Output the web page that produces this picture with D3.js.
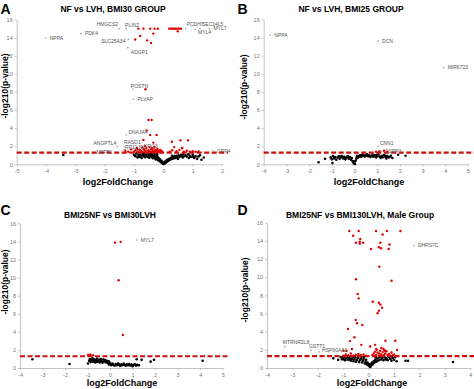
<!DOCTYPE html>
<html>
<head>
<meta charset="utf-8">
<script src="https://cdn.jsdelivr.net/npm/d3@7"></script>
<style>
  body { margin: 0; background: #fff; }
  svg { display: block; font-family: "Liberation Sans", Arial, sans-serif; }
  .axis path, .axis line { stroke: #b5b5b5; stroke-width: 0.8; }
  .axis text { fill: #777; font-size: 5.5px; }
</style>
</head>
<body>
<svg id="chart" width="474" height="389"></svg>
<script>
// ---- panel A: NF vs LVH, BMI30 GROUP ----
const A_X_TICKS = [-5, -4, -3, -2, -1, 0, 1, 2];
const A_BLACK = [
  [-3.41,1.03],[-1.0,1.05],[-0.95,0.9],[-0.92,1.2],[-0.88,0.75],[-0.85,1.0],[-0.8,1.15],[-0.78,0.85],
  [-0.74,0.7],[-0.72,1.0],[-0.7,1.22],[-0.66,0.9],[-0.63,0.78],[-0.6,1.1],[-0.58,0.95],[-0.55,1.25],
  [-0.53,0.82],[-0.5,1.05],[-0.48,0.72],[-0.45,0.92],[-0.43,1.18],[-0.4,0.8],[-0.38,1.02],[-0.35,0.68],
  [-0.33,0.9],[-0.3,1.15],[-0.28,0.75],[-0.26,0.55],[-0.24,0.98],[-0.22,0.65],[-0.2,0.85],[-0.18,0.45],
  [-0.16,0.7],[-0.14,0.38],[-0.12,0.55],[-0.1,0.28],[-0.08,0.42],[-0.06,0.18],[-0.04,0.3],[-0.02,0.08],
  [0.0,0.15],[0.01,0.03],[0.03,0.22],[0.05,0.1],[0.07,0.32],[0.09,0.2],[0.11,0.42],[0.13,0.3],
  [0.15,0.52],[0.18,0.4],[0.2,0.62],[0.23,0.5],[0.26,0.72],[0.29,0.58],[0.32,0.8],[0.35,0.65],
  [0.38,0.9],[0.42,0.7],[0.45,0.95],[0.48,0.78],[0.52,1.0],[0.55,0.82],[0.6,1.05],[0.63,0.88],
  [0.68,1.1],[0.72,0.9],[0.76,1.0],[0.8,0.85],[0.85,1.12],[0.9,0.95],[0.95,0.8],[1.0,1.05],
  [1.05,0.7],[1.1,0.9],[1.15,0.6],[1.2,0.85],[1.3,0.5],[1.38,0.75],[-0.9,1.28],[-0.65,1.27],
  [-0.97,0.95],[-0.83,0.8],[-0.68,1.12],[-0.52,1.2],[-0.41,1.0],[-0.31,0.85],[-0.36,1.25],[-0.21,1.1],
  [0.3,0.95],[0.5,0.6],[0.66,0.75],[0.87,0.7],[1.02,0.85],[1.25,1.0]
];
const A_RED = [
  [-1.3,1.5],[-1.2,1.4],[-1.1,1.65],[-1.0,1.4],[-0.95,1.55],[-0.9,1.8],[-0.85,1.4],[-0.8,1.6],
  [-0.75,1.45],[-0.72,1.85],[-0.7,1.35],[-0.65,1.6],[-0.6,1.45],[-0.58,1.75],[-0.55,1.35],[-0.5,1.55],
  [-0.47,1.9],[-0.45,1.4],[-0.42,1.65],[-0.4,1.35],[-0.37,1.8],[-0.35,1.5],[-0.32,1.4],[-0.3,1.65],
  [-0.27,1.35],[-0.25,1.55],[-0.22,1.45],[-0.2,1.7],[-0.18,1.35],[-0.15,1.5],[-0.12,1.4],[-0.1,1.6],
  [-0.08,1.35],[-0.05,1.45],[-0.62,2.0],[-0.3,1.95],[-0.88,1.65],[-0.68,1.7],[-0.52,1.45],[-0.4,1.75],
  [0.22,1.4],[0.3,1.55],[0.37,1.9],[0.45,1.45],[0.55,1.6],[0.64,1.8],[0.7,1.4],[0.8,1.5],
  [0.9,1.4],[1.0,1.45],[1.1,1.38],[1.2,1.42],
  [-0.85,15.0],[-0.68,15.0],[-0.45,15.0],[-0.3,15.0],[-0.19,15.0],
  [0.2,15.0],[0.25,15.0],[0.3,15.0],[0.35,15.0],[0.4,15.0],[0.45,15.0],[0.5,15.0],[0.55,15.0],[0.6,15.0],
  [0.49,14.7],[-0.79,14.2],[-0.96,13.8],[-0.34,14.45],[-0.55,13.7],[-0.42,13.4],[-0.61,8.3],
  [-0.51,4.9],[-0.4,4.9],[-0.57,3.75],[-0.45,3.25],[-0.23,3.25],[-0.68,2.7],[-0.34,2.4],
  [0.29,2.5],[0.58,2.65],[0.84,2.65],[0.64,1.8]
];
const A_GENES = [
  {name: "NPPA", x: -4.01, y: 13.94}, {name: "PDK4", x: -2.81, y: 14.45},
  {name: "HMGCS2", x: -1.51, y: 15.0}, {name: "PLIN2", x: -1.27, y: 15.0},
  {name: "SLC25A34", x: -1.19, y: 13.8}, {name: "ADGP1", x: -1.21, y: 12.9},
  {name: "POSTN", x: -1.04, y: 8.3}, {name: "PLVAP", x: -1.02, y: 7.2},
  {name: "DNAJA4", x: -1.26, y: 3.24}, {name: "ANGPTL4", x: -1.57, y: 1.95},
  {name: "RASD1", x: -1.34, y: 2.0}, {name: "RP11-SL", x: -1.34, y: 1.6},
  {name: "NRG3", x: -0.7, y: 1.75}, {name: "NPPB", x: -1.78, y: 1.47},
  {name: "GPR4", x: 1.69, y: 1.47}, {name: "PCDH7", x: 0.76, y: 15.0},
  {name: "SEC14L5", x: 1.25, y: 15.0}, {name: "MYL4", x: 1.08, y: 14.9},
  {name: "MYL7", x: 1.57, y: 15.0}
];

// ---- panel B: NF vs LVH, BMI25 GROUP ----
const B_X_TICKS = [-4, -3, -2, -1, 0, 1, 2, 3, 4, 5];
const B_BLACK = [
  [-1.58,0.23],[-1.3,0.6],[-0.97,0.15],[-1.05,0.75],[-1.0,0.55],[-0.95,0.9],[-0.9,0.65],[-0.85,0.8],
  [-0.8,0.5],[-0.75,0.72],[-0.7,0.88],[-0.65,0.6],[-0.6,0.78],[-0.55,0.9],[-0.5,0.65],[-0.45,0.82],
  [-0.4,0.55],[-0.35,0.75],[-0.3,0.9],[-0.25,0.62],[-0.2,0.8],[-0.15,0.5],[-0.12,0.7],[-0.08,0.35],
  [-0.05,0.2],[-0.02,0.1],[0.0,0.3],[0.02,0.05],[0.05,0.4],[0.08,0.6],[0.1,0.8],[0.12,0.95],
  [0.15,0.75],[0.2,0.9],[0.25,1.0],[0.3,0.8],[0.35,0.95],[0.4,1.05],[0.45,0.85],[0.5,0.98],
  [0.55,1.1],[0.6,0.88],[0.65,1.0],[0.7,0.8],[0.75,0.95],[0.8,1.08],[0.85,0.85],[0.9,1.0],
  [0.95,0.75],[1.0,0.92],[1.05,1.1],[1.1,0.85],[1.15,0.7],[1.2,0.95],[1.25,0.78],[1.3,1.02],
  [1.35,0.85],[1.4,0.65],[1.45,0.9],[1.5,0.75],[1.55,0.8],[1.6,0.95],[1.67,0.7],[1.92,1.05],
  [2.25,0.95],[-0.88,0.72],[-0.62,0.85],[-0.42,0.68],[-0.27,0.78],[0.18,0.82],[0.33,1.02],
  [0.58,0.95],[0.78,0.88],[0.98,1.02],[1.18,0.82],[1.38,0.95]
];
const B_RED = [[0.95,1.38],[1.1,1.45],[1.3,1.5],[1.45,1.4]];
const B_GENES = [
  {name: "NPPA", x: -3.71, y: 14.3}, {name: "DCN", x: 1.04, y: 13.64},
  {name: "MIR6723", x: 3.93, y: 10.69}, {name: "CNN1", x: 1.03, y: 2.0},
  {name: "CSRP1", x: 1.17, y: 1.47}
];

// ---- panel C: BMI25NF vs BMI30LVH ----
const C_X_TICKS = [-4, -3, -2, -1, 0, 1, 2, 3, 4, 5];
const C_BLACK = [
  [-3.45,0.96],[-1.8,0.44],[-0.98,0.5],[1.4,0.9],[1.8,0.7],[1.95,0.9],[4.11,0.8],[1.18,0.96],
  [-0.93,0.8],[-0.9,1.0],[-0.86,0.65],[-0.82,0.9],[-0.78,1.08],[-0.75,0.7],[-0.7,0.95],[-0.66,0.6],
  [-0.62,0.85],[-0.58,1.05],[-0.55,0.7],[-0.5,0.9],[-0.46,0.62],[-0.42,1.0],[-0.38,0.78],[-0.34,0.58],
  [-0.3,0.95],[-0.26,0.72],[-0.22,0.88],[-0.18,0.6],[-0.14,0.8],[-0.1,0.55],[-0.06,0.75],[-0.02,0.6],
  [-0.72,0.82],[-0.52,0.8],[-0.32,0.68],[-0.12,0.68],[-0.88,0.78],[-0.6,0.68],[-0.4,0.9],[-0.2,0.75],
  [0.0,0.45],[0.05,0.3],[0.1,0.5],[0.15,0.35],[0.2,0.25],[0.25,0.45],[0.3,0.3],[0.35,0.5],
  [0.4,0.35],[0.45,0.22],[0.5,0.42],[0.55,0.3],[0.6,0.48],[0.65,0.35],[0.7,0.25],[0.75,0.4],
  [0.8,0.3],[0.85,0.45],[0.9,0.28],[0.95,0.38],[1.0,0.2],[1.05,0.35],[1.1,0.42],[1.15,0.25],
  [1.2,0.35],[1.28,0.3],[-0.05,0.38],[0.12,0.4],[0.38,0.45],[0.62,0.38]
];
const C_RED = [
  [0.22,13.86],[0.47,13.95],[0.38,9.7],[0.57,3.65],[-0.98,1.45],[-0.88,1.5],[-0.75,1.42]
];
const C_GENES = [{name: "MYL7", x: 1.18, y: 14.16}];

// ---- panel D: BMI25NF vs BMI130LVH, Male Group ----
const D_X_TICKS = [-4, -3, -2, -1, 0, 1, 2, 3, 4];
const D_BLACK = [
  [-1.1,1.2],[-1.05,0.95],[-1.0,1.1],[-0.95,1.25],[-0.92,0.85],[-0.88,1.05],[-0.84,1.2],[-0.8,0.9],
  [-0.76,1.1],[-0.72,1.28],[-0.7,0.8],[-0.66,1.0],[-0.62,1.2],[-0.6,0.75],[-0.56,0.95],[-0.52,1.15],
  [-0.5,0.7],[-0.46,0.9],[-0.42,1.1],[-0.4,1.28],[-0.38,0.65],[-0.34,0.85],[-0.3,1.05],[-0.28,1.25],
  [-0.26,0.6],[-0.22,0.8],[-0.2,1.0],[-0.18,1.2],[-0.15,0.5],[-0.12,0.7],[-0.1,0.9],[-0.08,0.4],
  [-0.05,0.6],[-0.02,0.3],[0.0,0.45],[0.03,0.2],[0.05,0.35],[0.07,0.12],[0.09,0.28],[0.11,0.45],
  [0.13,0.6],[0.15,0.35],[0.18,0.5],[0.2,0.75],[0.23,0.6],[0.26,0.9],[0.3,0.7],[0.33,1.05],
  [0.36,0.8],[0.4,1.15],[0.43,0.9],[0.47,1.25],[0.5,0.95],[0.54,1.1],[0.58,0.85],[0.62,1.2],
  [0.66,0.95],[0.7,1.1],[0.75,0.85],[0.8,1.2],[0.85,1.0],[0.9,0.8],[0.95,1.1],[1.0,0.9],
  [1.05,1.2],[1.1,0.75],[1.45,0.8],[1.55,0.8],[3.32,0.66],[-1.39,1.06],[-1.2,0.9],
  [-0.98,0.95],[-0.74,0.95],[-0.54,1.25],[-0.32,0.95],[0.28,1.15],[0.52,1.2],[0.72,0.95],[0.92,1.22]
];
const D_RED = [
  [-0.76,15.09],[-0.61,14.57],[-0.39,15.09],[-0.33,14.2],[-0.35,13.9],[-0.5,13.8],[-0.22,13.8],[-0.35,13.7],
  [0.09,13.1],[0.29,15.09],[0.55,14.7],[0.72,15.09],[0.46,13.8],[0.4,13.3],[0.49,13.2],[0.82,13.6],
  [0.79,13.1],[1.25,15.09],[0.42,11.16],[-0.5,9.77],[0.9,9.6],[-0.43,8.15],[-0.39,7.67],[0.16,7.3],
  [0.4,7.19],[0.46,7.0],[0.53,6.63],[0.4,6.3],[0.35,6.04],[-0.51,5.29],[-0.46,4.92],[-0.25,4.74],
  [-0.81,4.3],[-0.56,3.38],[-0.74,2.96],[-0.29,2.55],[0.25,2.55],[0.66,3.0],[1.05,3.0],[0.06,2.37],
  [0.32,2.0],[0.58,2.1],[0.64,1.9],[1.12,2.0],[-0.66,2.1],[-0.99,1.9],
  [-1.0,1.35],[-0.9,1.5],[-0.8,1.4],[-0.7,1.6],[-0.6,1.38],[-0.5,1.45],[-0.4,1.55],[-0.3,1.4],
  [-0.2,1.5],[-0.1,1.35],[0.15,1.4],[0.2,1.6],[0.25,1.8],[0.3,1.45],[0.35,1.7],[0.4,1.35],
  [0.45,1.9],[0.5,1.5],[0.55,1.75],[0.6,1.4],[0.65,1.6],[0.7,1.85],[0.75,1.45],[0.8,1.55],
  [0.85,1.35],[0.9,1.7],[0.95,1.4],[1.0,1.5],[0.3,2.1],[0.5,2.2],[0.42,1.6],[0.62,1.95],[-0.87,1.9]
];
const D_GENES = [
  {name: "DHRS7C", x: 1.78, y: 13.47}, {name: "MTRNR2L8", x: -3.3, y: 2.35},
  {name: "GSTT1", x: -2.27, y: 1.98}, {name: "HSP90AA1", x: -1.95, y: 1.76}
];

const Y_TICKS = [0, 2, 4, 6, 8, 10, 12, 14, 16];
const THRESHOLD = 1.3;

// label placement around the gene marker: [dx, dy, anchor]
const LABEL_POS = {
  "HMGCS2": [-1, -4.5, "end"], "PLIN2": [-1, -3.5, "start"], "SLC25A34": [-3, 2, "end"],
  "ADGP1": [3, 5, "start"], "POSTN": [-2, -3, "start"], "ANGPTL4": [-1, -3.5, "end"],
  "RASD1": [0, -4, "start"], "RP11-SL": [1, -3, "start"], "NRG3": [1, -2, "start"],
  "NPPB": [-1, 1, "end"], "PCDH7": [1, -4.5, "start"], "SEC14L5": [2, -4.5, "start"],
  "MYL4": [3, 3, "start"], "DNAJA4": [2, -3, "start"], "CNN1": [2, -3, "start"],
  "MTRNR2L8": [-2, -4.5, "start"], "GSTT1": [-2, -3.5, "start"], "HSP90AA1": [3, -1.5, "start"]
};

const svg = d3.select('#chart');

function drawPanel(p) {
  const x = d3.scaleLinear().domain(p.xDomain).range([p.left, p.right]);
  const y = d3.scaleLinear().domain([0, 16]).range([p.bottom, p.top]);
  const g = svg.append('g');

  g.append('g')
    .attr('class', 'axis')
    .attr('transform', `translate(0,${p.bottom})`)
    .call(d3.axisBottom(x).tickValues(p.xTicks).tickSize(2).tickSizeOuter(0).tickPadding(3).tickFormat(d => String(d)));
  g.append('g')
    .attr('class', 'axis')
    .attr('transform', `translate(${p.left},0)`)
    .call(d3.axisLeft(y).tickValues(Y_TICKS).tickSize(2).tickSizeOuter(0).tickPadding(2).tickFormat(d => String(d)));

  g.selectAll('.black-pt')
    .data(p.black)
    .enter()
    .append('circle')
    .attr('class', 'black-pt')
    .attr('cx', d => x(d[0]))
    .attr('cy', d => y(d[1]))
    .attr('r', 1.3)
    .attr('fill', '#000');

  g.selectAll('.red-pt')
    .data(p.red)
    .enter()
    .append('circle')
    .attr('class', 'red-pt')
    .attr('cx', d => x(d[0]))
    .attr('cy', d => y(d[1]))
    .attr('r', 1.2)
    .attr('fill', '#e00000');

  // p = 0.05 line
  g.append('line')
    .attr('x1', x(p.xDomain[0]))
    .attr('x2', x(p.xDomain[1]) + 6)
    .attr('y1', y(THRESHOLD))
    .attr('y2', y(THRESHOLD))
    .attr('stroke', '#cc1010')
    .attr('stroke-width', 2.2)
    .attr('stroke-dasharray', '5,2.5');

  g.selectAll('.gene-pt')
    .data(p.genes)
    .enter()
    .append('circle')
    .attr('class', 'gene-pt')
    .attr('cx', d => x(d.x))
    .attr('cy', d => y(d.y))
    .attr('r', 0.8)
    .attr('fill', '#999');

  g.selectAll('.gene-label')
    .data(p.genes)
    .enter()
    .append('text')
    .attr('class', 'gene-label')
    .attr('x', d => x(d.x) + (LABEL_POS[d.name] || [4, 0])[0])
    .attr('y', d => y(d.y) + (LABEL_POS[d.name] || [4, 0])[1] + 1.8)
    .attr('text-anchor', d => (LABEL_POS[d.name] || [4, 0, 'start'])[2])
    .attr('font-size', '5px')
    .attr('fill', '#555')
    .text(d => d.name);

  g.append('text')
    .attr('x', p.titleX).attr('y', p.titleY)
    .attr('text-anchor', 'middle')
    .attr('font-size', '8.5px').attr('font-weight', 'bold')
    .text(p.title);

  g.append('text')
    .attr('x', p.letterX).attr('y', p.letterY)
    .attr('font-size', '14px').attr('font-weight', 'bold')
    .text(p.letter);

  g.append('text')
    .attr('x', p.xLabelX).attr('y', p.xLabelY)
    .attr('text-anchor', 'middle')
    .attr('font-size', '9px').attr('font-weight', 'bold')
    .text('log2FoldChange');

  g.append('text')
    .attr('transform', `translate(${p.yLabelX},${p.yLabelY}) rotate(-90)`)
    .attr('text-anchor', 'middle')
    .attr('dominant-baseline', 'central')
    .attr('font-size', '8.5px').attr('font-weight', 'bold')
    .text('-log210(p-value)');
}

drawPanel({
  letter: 'A', title: 'NF vs LVH, BMI30 GROUP', xDomain: [-5, 2], xTicks: A_X_TICKS,
  black: A_BLACK, red: A_RED, genes: A_GENES,
  left: 16.7, right: 222, top: 19.6, bottom: 164.3,
  titleX: 113, titleY: 11.5, letterX: 0.5, letterY: 13.5,
  xLabelX: 118, xLabelY: 185, yLabelX: 5, yLabelY: 86
});
drawPanel({
  letter: 'B', title: 'NF vs LVH, BMI25 GROUP', xDomain: [-4, 5], xTicks: B_X_TICKS,
  black: B_BLACK, red: B_RED, genes: B_GENES,
  left: 263.7, right: 468, top: 19.6, bottom: 164.3,
  titleX: 351, titleY: 11.5, letterX: 237.5, letterY: 13.5,
  xLabelX: 369, xLabelY: 185, yLabelX: 244, yLabelY: 87
});
drawPanel({
  letter: 'C', title: 'BMI25NF vs BMI30LVH', xDomain: [-4, 5], xTicks: C_X_TICKS,
  black: C_BLACK, red: C_RED, genes: C_GENES,
  left: 20, right: 222.7, top: 223.3, bottom: 368,
  titleX: 110, titleY: 218, letterX: 0.5, letterY: 215,
  xLabelX: 122, xLabelY: 385.5, yLabelX: 5, yLabelY: 282
});
drawPanel({
  letter: 'D', title: 'BMI25NF vs BMI130LVH, Male Group', xDomain: [-4, 4], xTicks: D_X_TICKS,
  black: D_BLACK, red: D_RED, genes: D_GENES,
  left: 267, right: 470.3, top: 222.7, bottom: 368,
  titleX: 360, titleY: 218, letterX: 237.5, letterY: 215,
  xLabelX: 372, xLabelY: 385.5, yLabelX: 245, yLabelY: 290
});
</script>
</body>
</html>
